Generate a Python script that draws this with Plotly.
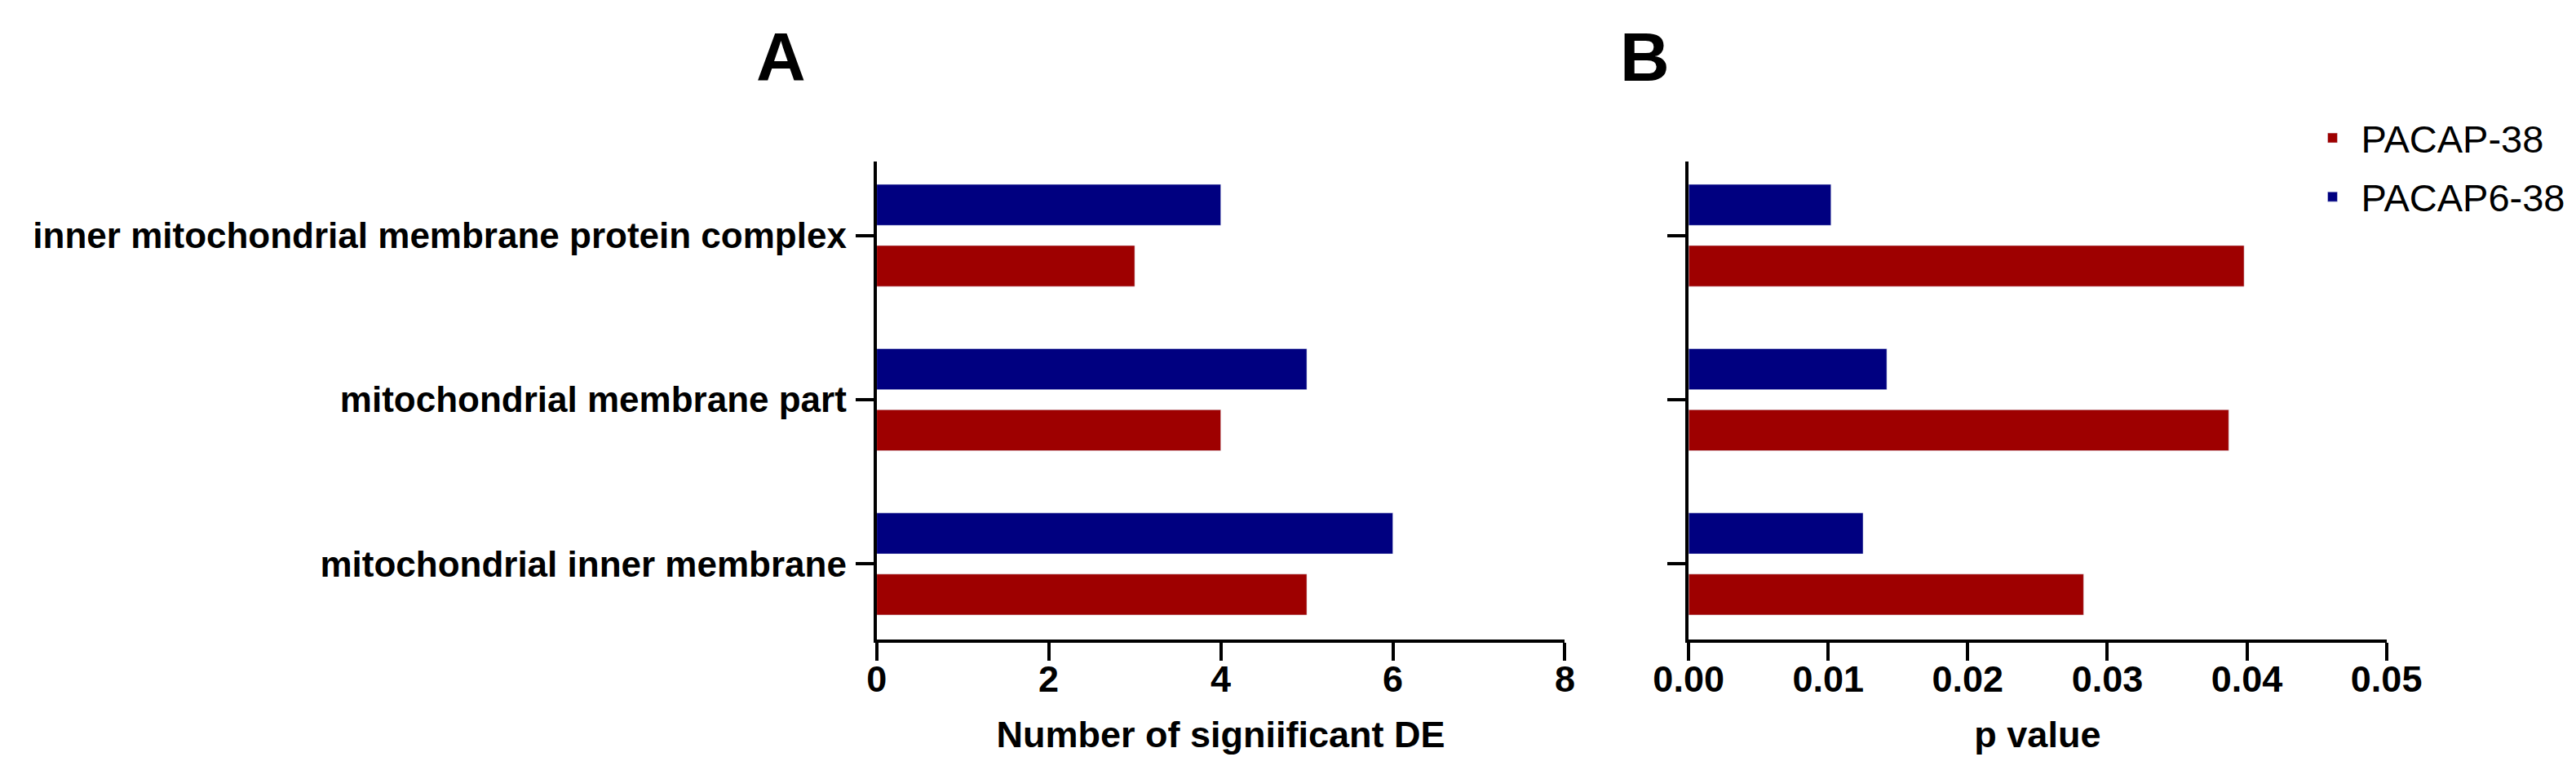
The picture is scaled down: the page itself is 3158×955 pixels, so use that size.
import plotly.graph_objects as go

# ---- data ----
categories = [
    "inner mitochondrial membrane protein complex",
    "mitochondrial membrane part",
    "mitochondrial inner membrane",
]
series_names = ["PACAP-38", "PACAP6-38"]
de_pacap38 = [3, 4, 5]
de_pacap6_38 = [4, 5, 6]
p_pacap38 = [0.0398, 0.0387, 0.0283]
p_pacap6_38 = [0.0102, 0.0142, 0.0125]
x_ticks_a = [0, 2, 4, 6, 8]
x_ticks_b = [0.00, 0.01, 0.02, 0.03, 0.04, 0.05]

RED = "#9e0000"
BLUE = "#000080"
FONT = "Arial, Liberation Sans, sans-serif"
W, H = 3158, 955

fig = go.Figure()

# Panel A
fig.add_trace(go.Bar(y=categories, x=de_pacap6_38, orientation="h", name=series_names[1],
                     marker=dict(color=BLUE), xaxis="x", yaxis="y", legendgroup="b",
                     legendrank=2, showlegend=True))
fig.add_trace(go.Bar(y=categories, x=de_pacap38, orientation="h", name=series_names[0],
                     marker=dict(color=RED), xaxis="x", yaxis="y", legendgroup="a",
                     legendrank=1, showlegend=True))
# Panel B
fig.add_trace(go.Bar(y=categories, x=p_pacap6_38, orientation="h", name=series_names[1],
                     marker=dict(color=BLUE), xaxis="x2", yaxis="y2", legendgroup="b",
                     legendrank=2, showlegend=False))
fig.add_trace(go.Bar(y=categories, x=p_pacap38, orientation="h", name=series_names[0],
                     marker=dict(color=RED), xaxis="x2", yaxis="y2", legendgroup="a",
                     legendrank=1, showlegend=False))

ydom = [1 - 776 / H, 1 - 190 / H]
axis_common = dict(showline=True, linecolor="black", linewidth=4, ticks="outside",
                   ticklen=22, tickwidth=4, tickcolor="black", showgrid=False, zeroline=False,
                   tickfont=dict(family=FONT, size=45, color="black", weight="bold"))
title_font = dict(family=FONT, size=45, color="black", weight="bold")

fig.update_layout(
    width=W, height=H,
    margin=dict(l=0, r=0, t=0, b=0),
    paper_bgcolor="white", plot_bgcolor="white",
    barmode="group", bargap=0.256, bargroupgap=0.33,
    font=dict(family=FONT, color="black"),
    xaxis=dict(domain=[1052 / W, 1920 / W], range=[0, 8], tickvals=x_ticks_a,
               ticklabelstandoff=-16,
               title=dict(text="Number of signiificant DE", standoff=28, font=title_font),
               anchor="y", **axis_common),
    yaxis=dict(domain=ydom, range=[2.46, -0.45], type="category",
               categoryorder="array", categoryarray=categories, anchor="x",
               ticklabelstandoff=2,
               **{**axis_common,
                  "tickfont": dict(family=FONT, size=44, color="black", weight="bold")}),
    xaxis2=dict(domain=[2076 / W, 2956 / W], range=[0, 0.05], tickvals=x_ticks_b, tickformat=".2f",
                ticklabelstandoff=-16,
                title=dict(text="p value", standoff=28, font=title_font),
                anchor="y2", **axis_common),
    yaxis2=dict(domain=ydom, range=[2.46, -0.45], type="category",
                categoryorder="array", categoryarray=categories, anchor="x2",
                showticklabels=False, **axis_common),
    legend=dict(x=2852 / W, y=1 - 124 / H, xanchor="left", yanchor="top",
                traceorder="grouped", tracegroupgap=8,
                font=dict(family=FONT, size=47, color="black"),
                bgcolor="rgba(0,0,0,0)", itemwidth=60),
    annotations=[
        dict(text="A", x=931 / W, y=1 - 62 / H, xref="paper", yref="paper",
             xanchor="center", yanchor="middle", showarrow=False,
             font=dict(family=FONT, size=84, color="black", weight="bold")),
        dict(text="B", x=2021 / W, y=1 - 62 / H, xref="paper", yref="paper",
             xanchor="center", yanchor="middle", showarrow=False,
             font=dict(family=FONT, size=84, color="black", weight="bold")),
    ],
)

fig.write_html("out.html")
